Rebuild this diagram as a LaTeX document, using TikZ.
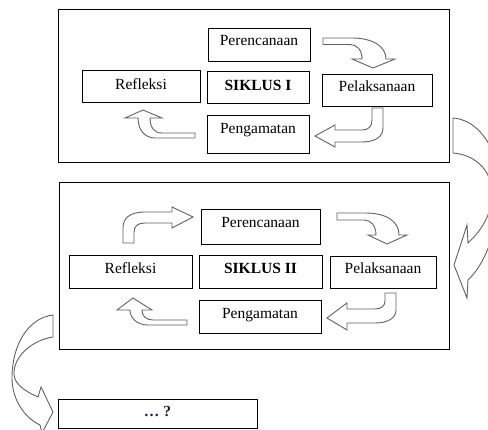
\documentclass[tikz,border=0pt]{standalone}
\usepackage{fontspec}
\setmainfont{Liberation Serif}
\begin{document}
\begin{tikzpicture}[x=1pt,y=-1pt,
  frame/.style={draw=black, line width=0.8pt, inner sep=0pt},
  box/.style={draw=black, line width=0.9pt, fill=white, inner sep=0pt, font=\fontsize{15.5}{18}\selectfont},
  blk/.style={draw=black!62, line width=0.9pt, fill=white, line join=miter},
]
\useasboundingbox (0,0) rectangle (488,430);
\clip (0,0) rectangle (488,430);

% outer frames
\node[frame, minimum width=391pt, minimum height=153pt] (b1) at (253.5,85.5) {};
\node[frame, minimum width=390pt, minimum height=167pt] (b2) at (254,265.5) {};
\node[box, minimum width=199pt, minimum height=29pt] (q) at (157.5,413.5) {\raisebox{0.5pt}[0.7em][0.25em]{\bfseries\color[rgb]{0.08,0.12,0.25}\dots\ ?}};

% cycle I
\node[box, minimum width=102pt, minimum height=33pt] (p1) at (259,44.5) {\raisebox{2pt}[0.7em][0.25em]{Perencanaan}};
\node[box, minimum width=102pt, minimum height=32pt] (s1) at (258,87) {\raisebox{0pt}[0.7em][0.25em]{\bfseries SIKLUS I}};
\node[box, minimum width=118pt, minimum height=32pt] (r1) at (141,86) {\raisebox{-0.5pt}[0.7em][0.25em]{Refleksi}};
\node[box, minimum width=110pt, minimum height=32pt] (l1) at (377,90) {\raisebox{2pt}[0.7em][0.25em]{Pelaksanaan}};
\node[box, minimum width=102pt, minimum height=38pt] (g1) at (258,134) {\raisebox{3.5pt}[0.7em][0.25em]{Pengamatan}};

% cycle II
\node[box, minimum width=119pt, minimum height=35pt] (p2) at (260.5,226.5) {\raisebox{2pt}[0.7em][0.25em]{Perencanaan}};
\node[box, minimum width=123pt, minimum height=33pt] (r2) at (130.5,271.5) {\raisebox{1.2pt}[0.7em][0.25em]{Refleksi}};
\node[box, minimum width=123pt, minimum height=33pt] (s2) at (260.5,271.5) {\raisebox{1pt}[0.7em][0.25em]{\bfseries SIKLUS II}};
\node[box, minimum width=106pt, minimum height=32pt] (l2) at (383,272) {\raisebox{1.7pt}[0.7em][0.25em]{Pelaksanaan}};
\node[box, minimum width=122pt, minimum height=33pt] (g2) at (260,316.5) {\raisebox{1.7pt}[0.7em][0.25em]{Pengamatan}};

% block arrows, cycle I
\draw[blk] (323,38) -- (352,38) .. controls (372,38) and (386,46) .. (386,59) -- (395,59) -- (373,68) -- (352,59) -- (362,59) .. controls (362,50) and (357,44.5) .. (350,44.5) -- (323,44.5) -- cycle;
\draw[blk] (372,108) -- (383,108) -- (383,128) .. controls (383,137) and (375,142) .. (362,142) -- (335,142) -- (335,147) -- (315,136) -- (335,125) -- (335,130) -- (362,130) .. controls (369,130) and (372,126) .. (372,120) -- cycle;
\draw[blk] (195,133) -- (195,138) -- (155,138) .. controls (145,138) and (138,130) .. (138,118) -- (125,118) -- (143,110) -- (162,118) -- (150,118) .. controls (150,127) and (154,133) .. (162,133) -- cycle;

% block arrows, cycle II
\draw[blk] (123,243) -- (123,228) .. controls (123,218) and (130,212) .. (145,212) -- (172,212) -- (172,207) -- (193,217) -- (172,228) -- (172,223) -- (145,223) .. controls (138,223) and (134,226) .. (134,232) -- (134,243) -- cycle;
\draw[blk] (337,213) -- (365,213) .. controls (386,213) and (399,221) .. (399,235) -- (407,235) -- (387,244) -- (368,235) -- (376,235) .. controls (376,226) and (371,220) .. (364,220) -- (337,220) -- cycle;
\draw[blk] (385,293) -- (396,293) -- (396,310) .. controls (396,318) and (388,323) .. (375,323) -- (347,323) -- (347,330) -- (327,318) -- (347,303) -- (347,309) -- (375,309) .. controls (381,309) and (385,306) .. (385,301) -- cycle;
\draw[blk] (187,320) -- (187,325) -- (148,325) .. controls (137,325) and (130,318) .. (130,310) -- (117,310) -- (133,298) -- (152,310) -- (142,310) .. controls (142,316) and (146,320) .. (153,320) -- cycle;

% big curved arrows
\draw[blk] (453,118) .. controls (485,120) and (505,165) .. (500,200) .. controls (496,235) and (484,265) .. (468,280) -- (467,298) -- (454,265) -- (467,225) -- (468,243) .. controls (484,228) and (492,212) .. (492,193) .. controls (492,172) and (477,155) .. (453,153) -- cycle;
\draw[blk] (53,315) .. controls (28,318) and (12,345) .. (12,378) .. controls (12,400) and (25,418) .. (40,425) -- (42,433) -- (53,412) -- (41,387) -- (38,397) .. controls (22,390) and (13,382) .. (14,372) .. controls (15,355) and (33,340) .. (53,337) -- cycle;
\end{tikzpicture}
\end{document}
